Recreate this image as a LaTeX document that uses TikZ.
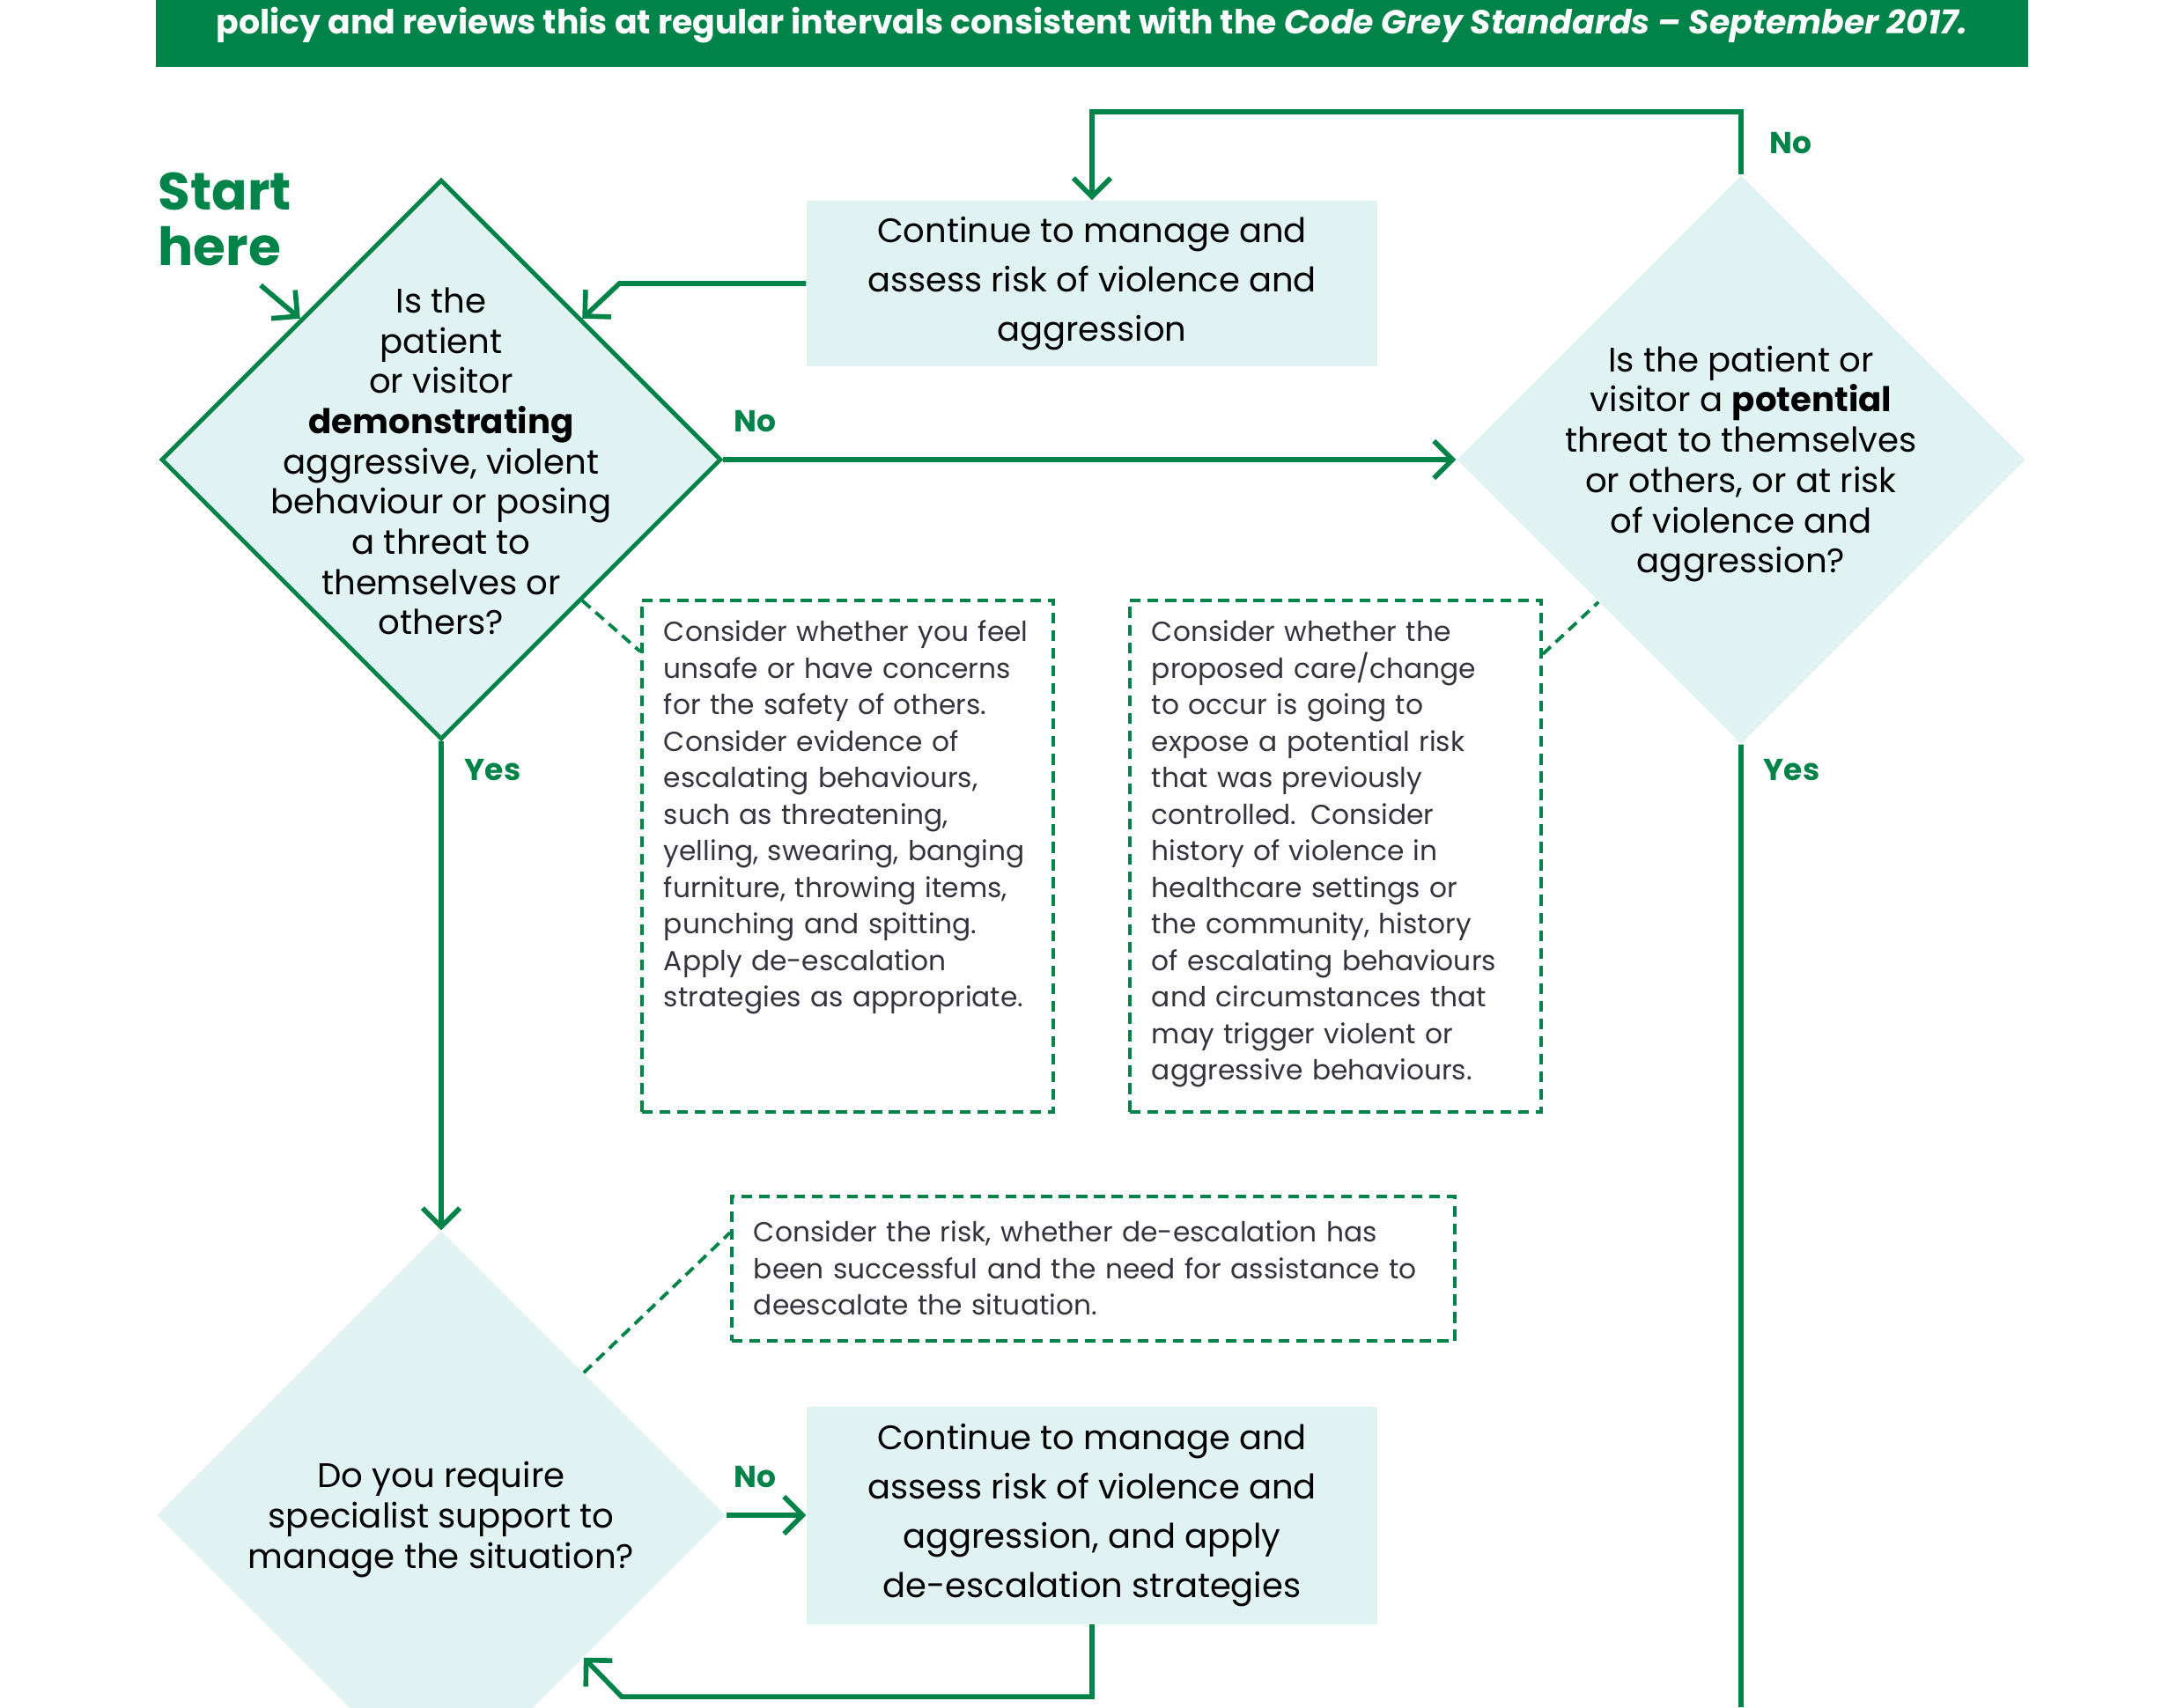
\documentclass[tikz,border=0pt]{standalone}
\usepackage{fontspec}
\setmainfont{Poppins}
\usetikzlibrary{calc, arrows.meta, shapes.geometric}
\definecolor{vicgreen}{RGB}{0,131,72}
\definecolor{victeal}{RGB}{224,242,241}
\definecolor{notegrey}{RGB}{52,52,62}
\tikzstyle{decision}=[diamond, fill=victeal, minimum size=6.46cm, inner sep=0pt]
\tikzstyle{qtext}=[align=center, font=\fontsize{11}{13}\selectfont]
\tikzstyle{block}=[fill=victeal, minimum width=6.48cm, align=center, font=\fontsize{10.95}{15.9}\selectfont]
\tikzstyle{note}=[draw=vicgreen, line width=1.1pt, dash pattern=on 3.5pt off 2.2pt, align=left, inner sep=0.25cm, text height=0.22cm, text=notegrey, font=\fontsize{8.9}{11.8}\selectfont]
\tikzstyle{lbl}=[text=vicgreen, inner sep=0pt, font=\fontsize{9.8}{12}\selectfont\bfseries]
\tikzstyle{link}=[draw=vicgreen, line width=1.6pt]

\begin{document}
\begin{tikzpicture}[node distance=2cm,auto,>={Straight Barb[length=6pt,width=12pt]}]
      \useasboundingbox (0,0) rectangle (24.80,-19.39);

      % header band
      \node [fill=vicgreen, minimum width=21.26cm, minimum height=0.76cm, inner sep=0pt] (band) at (12.40,-0.38) {};
      \node [text=white, anchor=base, font=\fontsize{10.76}{12}\selectfont\bfseries] (bandtext) at (12.40,-0.38)
        {policy and reviews this at regular intervals consistent with the \textit{Code Grey Standards -- September 2017.}};

      \node [lbl, anchor=north west, align=left, font=\fontsize{17}{18}\selectfont\bfseries] (start) at (1.79,-1.95) {Start\\here};
      \node (startpt) [coordinate] at (2.96,-3.24) {};

      % decisions
      \node [decision, draw=vicgreen, line width=1.4pt, minimum size=6.36cm] (q1) at (5.01,-5.22) {};
      \node [qtext] (q1t) at ([yshift=-0.02cm]q1) {Is the\\patient\\or visitor\\\textbf{demonstrating}\\aggressive, violent\\behaviour or posing\\a threat to\\themselves or\\others?};

      \node [decision] (q2) [right of=q1, node distance=14.76cm] {};
      \node [qtext] (q2t) at ([yshift=-0.05cm]q2) {Is the patient or\\visitor a \textbf{potential}\\threat to themselves\\or others, or at risk\\of violence and\\aggression?};

      \node [decision] (q3) [below of=q1, node distance=11.99cm] {};
      \node [qtext] (q3t) at ([yshift=-0.05cm]q3) {Do you require\\specialist support to\\manage the situation?};

      % actions
      \node [block, minimum height=1.88cm] (cont1) at (12.40,-3.22) {Continue to manage and\\assess risk of violence and\\aggression};
      \node [block, minimum height=2.47cm] (cont2) [right of=q3, node distance=7.39cm] {Continue to manage and\\assess risk of violence and\\aggression, and apply\\de-escalation strategies};

      % notes
      \node [note, anchor=north west, text width=4.17cm, text depth=5.09cm] (noteA) at (7.27,-6.80)
        {Consider whether you feel\\unsafe or have concerns\\for the safety of others.\\Consider evidence of\\escalating behaviours,\\such as threatening,\\yelling, swearing, banging\\furniture, throwing items,\\punching and spitting.\\Apply de-escalation\\strategies as appropriate.};
      \node [note, anchor=north west, text width=4.17cm, text depth=5.09cm] (noteB) at (12.81,-6.80)
        {Consider whether the\\proposed care/change\\to occur is going to\\expose a potential risk\\that was previously\\controlled. Consider\\history of violence in\\healthcare settings or\\the community, history\\of escalating behaviours\\and circumstances that\\may trigger violent or\\aggressive behaviours.};
      \node [note, anchor=north west, text width=7.71cm, text height=0.27cm, text depth=0.87cm] (noteC) at (8.29,-13.57)
        {Consider the risk, whether de-escalation has\\been successful and the need for assistance to\\deescalate the situation.};

      \node (q2end) [coordinate] at (19.77,-19.39) {};

      % labels
      \node [lbl, anchor=base west] (no1) at (8.33,-4.90) {No};
      \node [lbl, anchor=base west] (no2) at (20.09,-1.74) {No};
      \node [lbl, anchor=base west] (yes1) at (5.27,-8.86) {Yes};
      \node [lbl, anchor=base west] (yes2) at (20.02,-8.86) {Yes};
      \node [lbl, anchor=base west] (no3) at (8.33,-16.89) {No};

      % connectors
      \draw[link,->] (startpt) -- (q1.north west);
      \draw[link,->] (cont1.west) -- ++(-2.12,0) -- (q1.north east);
      \draw[link,->] (q1.east) -- (q2.west);
      \draw[link,->] (q2.north) -- ++(0,0.71) -| (cont1.north);
      \draw[link] (q2.south) -- (q2end);
      \draw[link,->] (q1.south) -- (q3.north);
      \draw[link,->] (q3.east) -- (cont2.west);
      \draw[link,->] (cont2.south) -- ++(0,-0.82) -- ++(-5.34,0) -- (q3.south east);

      \draw[link, line width=1.1pt, dash pattern=on 3.5pt off 2.2pt] (q1.south east) -- ([yshift=-6mm]noteA.north west);
      \draw[link, line width=1.1pt, dash pattern=on 3.5pt off 2.2pt] ([yshift=-6.3mm]noteB.north east) -- (q2.south west);
      \draw[link, line width=1.1pt, dash pattern=on 3.5pt off 2.2pt] (q3.north east) -- ([yshift=-4.3mm]noteC.north west);
  \end{tikzpicture}
\end{document}
